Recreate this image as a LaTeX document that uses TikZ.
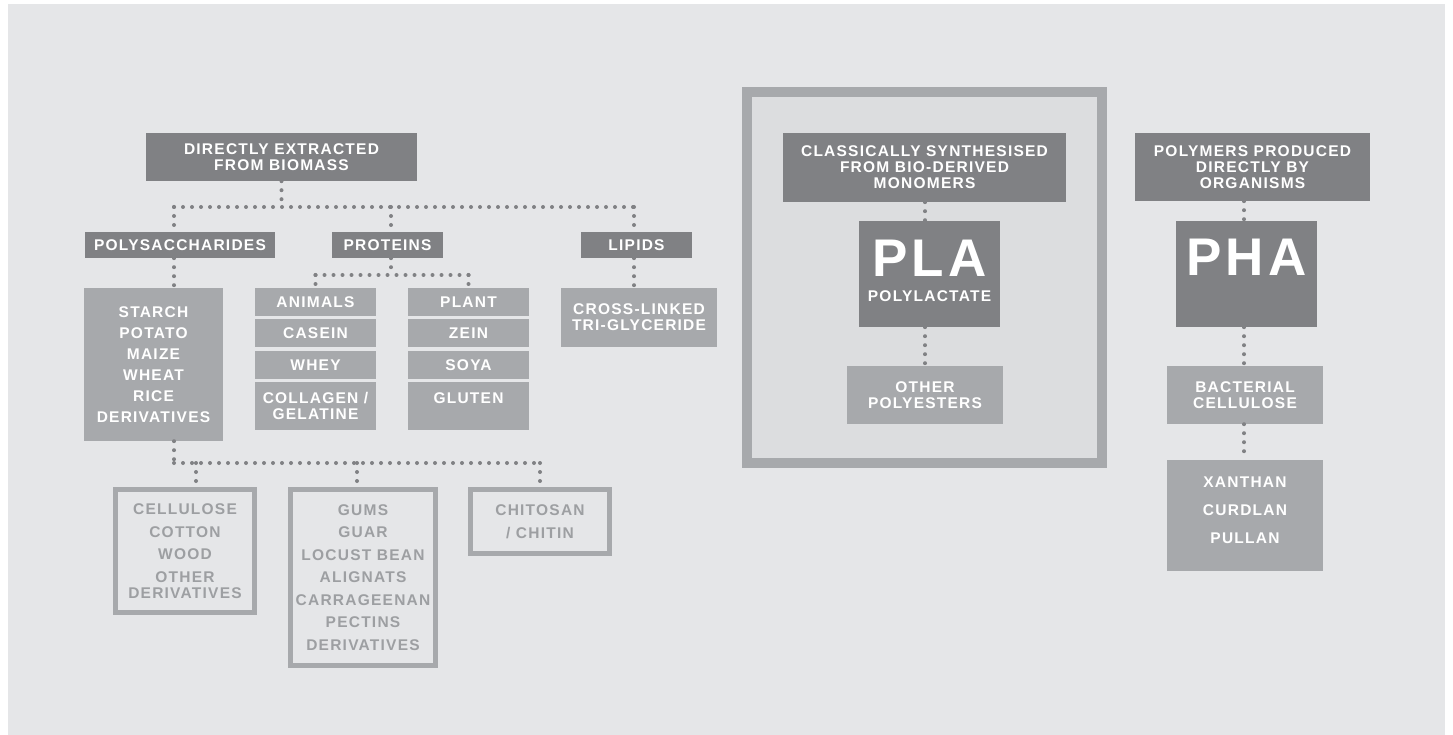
\documentclass[tikz,border=0pt]{standalone}
\usepackage{fontspec}
\setmainfont{Liberation Sans}
\newfontfamily\lblfont{Liberation Sans}[LetterSpace=8, BoldFont={Liberation Sans Bold}]
\usetikzlibrary{positioning}

\definecolor{bggrey}{HTML}{E5E6E8}
\definecolor{darkgrey}{HTML}{808184}
\definecolor{midgrey}{HTML}{A7A9AC}
\definecolor{palegrey}{HTML}{DCDDDF}
\definecolor{textgrey}{HTML}{9D9FA2}

\tikzset{
  box/.style={inner sep=0pt, align=center, text=white,
    font=\lblfont\bfseries\fontsize{15.5}{16}\selectfont},
  darkbox/.style={box, fill=darkgrey},
  midbox/.style={box, fill=midgrey},
  linebox/.style={box, draw=midgrey, line width=5pt, text=textgrey},
  dots/.style={darkgrey, line width=4pt, line cap=round, dash pattern=on 0pt off 9pt},
}
\newcommand{\bigname}[1]{{\fontsize{53}{53}\selectfont #1}}

\begin{document}
\begin{tikzpicture}[x=1pt,y=-1pt]
  \useasboundingbox (0,0) rectangle (1453,735);
  \fill[white] (0,0) rectangle (1453,735);
  \fill[bggrey] (8,4) rectangle (1445,735);

  % directly extracted
  \node[darkbox, minimum width=271pt, minimum height=48pt] (biomass) at (281.5,157) {DIRECTLY EXTRACTED\\FROM BIOMASS};
  \node[darkbox, minimum width=190pt, minimum height=26pt] (poly) at (180,245) {POLYSACCHARIDES};
  \node[darkbox, minimum width=111pt, minimum height=26pt] (proteins) at (387.5,245) {PROTEINS};
  \node[darkbox, minimum width=111pt, minimum height=26pt] (lipids) at (636.5,245) {LIPIDS};

  \node[midbox, minimum width=139pt, minimum height=153pt] (starch) at (153.5,364.5)
    {STARCH\\[5pt]POTATO\\[5pt]MAIZE\\[5pt]WHEAT\\[5pt]RICE\\[5pt]DERIVATIVES};
  \node[midbox, minimum width=121pt, minimum height=28pt] (animals) at (315.5,302) {ANIMALS};
  \node[midbox, minimum width=121pt, minimum height=28pt] (casein) at (315.5,333) {CASEIN};
  \node[midbox, minimum width=121pt, minimum height=28pt] (whey) at (315.5,365) {WHEY};
  \node[midbox, minimum width=121pt, minimum height=48pt] (collagen) at (315.5,406) {COLLAGEN /\\GELATINE};
  \node[midbox, minimum width=121pt, minimum height=28pt] (plant) at (468.5,302) {PLANT};
  \node[midbox, minimum width=121pt, minimum height=28pt] (zein) at (468.5,333) {ZEIN};
  \node[midbox, minimum width=121pt, minimum height=28pt] (soya) at (468.5,365) {SOYA};
  \node[midbox, minimum width=121pt, minimum height=48pt] (gluten) at (468.5,406) {GLUTEN\\\mbox{}};
  \node[midbox, minimum width=156pt, minimum height=59pt] (crosslinked) at (639,317.5) {CROSS-LINKED\\TRI-GLYCERIDE};

  \node[linebox, minimum width=139pt, minimum height=123pt] (cellulose) at (185,551)
    {CELLULOSE\\[6.5pt]COTTON\\[6.5pt]WOOD\\[6.5pt]OTHER\\DERIVATIVES};
  \node[linebox, minimum width=145pt, minimum height=176pt] (gums) at (363,577.5)
    {GUMS\\[6.5pt]GUAR\\[6.5pt]LOCUST BEAN\\[6.5pt]ALIGNATS\\[6.5pt]CARRAGEENAN\\[6.5pt]PECTINS\\[6.5pt]DERIVATIVES};
  \node[linebox, minimum width=139pt, minimum height=64pt] (chitosan) at (540,521.5) {CHITOSAN\\[6.5pt]/ CHITIN};

  \coordinate (hubtop) at (281.5,207);
  \coordinate (hubpoly) at (174,207);
  \coordinate (hubprot) at (391,207);
  \coordinate (hublip) at (634,207);
  \draw[dots] (biomass.south) -- (hubtop);
  \draw[dots] (hubpoly) -- (hublip);
  \draw[dots] (hubpoly) -- (hubpoly |- poly.north);
  \draw[dots] (hubprot) -- (hubprot |- proteins.north);
  \draw[dots] (hublip) -- (hublip |- lipids.north);

  \coordinate (hubanim) at (315.5,275);
  \coordinate (hubplant) at (468.5,275);
  \draw[dots] (proteins.south -| hubprot) -- (hubprot |- hubanim);
  \draw[dots] (hubanim) -- (hubplant);
  \draw[dots] (hubanim) -- (animals.north);
  \draw[dots] (hubplant) -- (plant.north);
  \draw[dots] (poly.south -| hubpoly) -- (hubpoly |- starch.north);
  \draw[dots] (lipids.south -| hublip) -- (hublip |- crosslinked.north);

  \coordinate (hubstarch) at (174,463);
  \coordinate (hubchit) at (540,463);
  \draw[dots] (starch.south -| hubstarch) -- (hubstarch);
  \draw[dots] (hubstarch) -- (hubchit);
  \draw[dots] (196,463) -- (196,487);
  \draw[dots] (357,463) -- (357,487);
  \draw[dots] (hubchit) -- (chitosan.north);

  % classically synthesised
  \draw[midgrey, fill=palegrey, line width=10pt] (747,92) rectangle (1102,463);
  \node[darkbox, minimum width=283pt, minimum height=69pt] (classic) at (924.5,167.5)
    {CLASSICALLY SYNTHESISED\\FROM BIO-DERIVED\\MONOMERS};
  \node[darkbox, minimum width=141pt, minimum height=106pt, text depth=6pt] (pla) at (929.5,274)
    {\bigname{PLA}\\[9pt]POLYLACTATE};
  \node[midbox, minimum width=156pt, minimum height=58pt] (otherpoly) at (925,395) {OTHER\\POLYESTERS};
  \draw[dots] (classic.south -| 925,0) -- (pla.north -| 925,0);
  \draw[dots] (pla.south -| 925,0) -- (otherpoly.north -| 925,0);

  % produced by organisms
  \node[darkbox, minimum width=235pt, minimum height=68pt] (organisms) at (1252.5,167)
    {POLYMERS PRODUCED\\DIRECTLY BY\\ORGANISMS};
  \node[darkbox, minimum width=141pt, minimum height=106pt, text depth=8pt] (pha) at (1246.5,274)
    {\bigname{PHA}\\[9pt]\mbox{}};
  \node[midbox, minimum width=156pt, minimum height=58pt] (bacterial) at (1245,395) {BACTERIAL\\CELLULOSE};
  \node[midbox, minimum width=156pt, minimum height=111pt, text depth=10pt] (xanthan) at (1245,515.5)
    {XANTHAN\\[12pt]CURDLAN\\[12pt]PULLAN};
  \draw[dots] (organisms.south -| 1244,0) -- (pha.north -| 1244,0);
  \draw[dots] (pha.south -| 1244,0) -- (bacterial.north -| 1244,0);
  \draw[dots] (bacterial.south -| 1244,0) -- (xanthan.north -| 1244,0);
\end{tikzpicture}
\end{document}
